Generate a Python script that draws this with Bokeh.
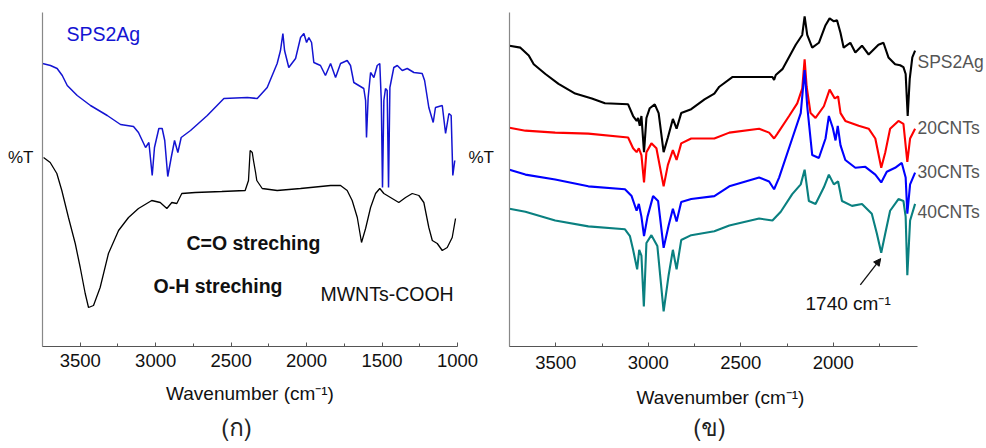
from bokeh.plotting import figure
from bokeh.layouts import row, column
from bokeh.models import Range1d, FixedTicker, Label, Arrow, NormalHead, LinearAxis
from bokeh.embed import file_html
from bokeh.resources import INLINE

# ---------------- data: panel (a) ----------------
a_sps_wn = [3750, 3697, 3653, 3619, 3586, 3520, 3432, 3321, 3233, 3147, 3114, 3089, 3067, 3045,
            3023, 3008, 2979, 2957, 2940, 2920, 2897, 2875, 2853, 2831, 2769, 2658, 2548, 2393,
            2327, 2261, 2195, 2173, 2157, 2146, 2118, 2073, 2040, 2018, 2000, 1985, 1967, 1952,
            1908, 1875, 1841, 1808, 1775, 1731, 1709, 1687, 1654, 1621, 1609, 1603, 1592, 1576,
            1554, 1532, 1515, 1505, 1497, 1488, 1477, 1466, 1457, 1448, 1422, 1399, 1366, 1333,
            1289, 1234, 1218, 1190, 1161, 1146, 1101, 1079, 1057, 1042, 1031, 1018]
a_sps_t = [283, 281, 278, 271, 261, 251, 241, 231, 222, 220, 214, 206, 199, 204,
           171, 199, 218, 218, 206, 170, 189, 206, 194, 209, 216, 231, 248, 249,
           248, 259, 283, 296, 313, 296, 279, 288, 309, 313, 304, 309, 304, 284,
           281, 271, 283, 269, 283, 286, 281, 264, 261, 258, 246, 209, 249, 274,
           269, 281, 283, 246, 159, 246, 258, 256, 159, 259, 279, 281, 276, 278,
           274, 273, 266, 239, 224, 239, 241, 213, 233, 231, 171, 186]

a_cooh_wn = [3743, 3699, 3655, 3622, 3578, 3533, 3500, 3467, 3445, 3412, 3368, 3313, 3246, 3180,
             3114, 3026, 2970, 2926, 2893, 2860, 2827, 2738, 2562, 2407, 2385, 2374, 2360, 2352,
             2338, 2330, 2294, 2195, 2040, 1841, 1775, 1731, 1698, 1664, 1636, 1609, 1576, 1543,
             1515, 1488, 1444, 1389, 1344, 1300, 1256, 1223, 1190, 1167, 1134, 1101, 1068, 1035,
             1013]
a_cooh_t = [189, 184, 173, 156, 129, 103, 79, 53, 39, 41, 59, 93, 116, 129,
            138, 146, 144, 138, 144, 143, 153, 154, 155, 156, 166, 196, 194, 186,
            174, 166, 158, 156, 158, 161, 161, 156, 146, 129, 104, 118, 139, 153,
            158, 153, 149, 144, 149, 153, 151, 144, 119, 106, 103, 96, 99, 109,
            128]

a_ticks = [3500, 3000, 2500, 2000, 1500, 1000]
a_minor = [3750, 3250, 2750, 2250, 1750, 1250]

# ---------------- data: panel (b) ----------------
b_sps_wn = [3750, 3691, 3646, 3619, 3556, 3485, 3395, 3305, 3234, 3109, 3082, 3063, 3055, 3046,
            3037, 3023, 3010, 2992, 2965, 2944, 2917, 2894, 2867, 2847, 2822, 2768, 2696, 2643,
            2616, 2544, 2472, 2329, 2320, 2311, 2275, 2203, 2168, 2155, 2141, 2114, 2078, 2042,
            2020, 1997, 1980, 1961, 1944, 1908, 1881, 1845, 1809, 1756, 1729, 1702, 1666, 1639,
            1621, 1609, 1598, 1587, 1573, 1558]
b_sps_t = [308, 306, 298, 289, 279, 269, 259, 254, 249, 248, 236, 231, 234, 226,
           236, 199, 234, 244, 248, 239, 199, 214, 233, 223, 239, 243, 253, 259,
           266, 276, 276, 276, 273, 278, 284, 309, 319, 338, 319, 306, 311, 329,
           336, 333, 334, 321, 306, 311, 301, 308, 299, 309, 311, 296, 289, 288,
           286, 279, 236, 274, 296, 303]

b_20_wn = [3750, 3664, 3503, 3324, 3109, 3082, 3063, 3051, 3037, 3023, 3010, 2983, 2956, 2917,
           2894, 2867, 2847, 2822, 2768, 2643, 2562, 2401, 2347, 2320, 2302, 2239, 2195, 2168,
           2155, 2144, 2123, 2096, 2051, 2020, 1992, 1974, 1961, 1935, 1863, 1809, 1773, 1741,
           1719, 1693, 1648, 1621, 1600, 1585, 1558]
b_20_t = [224, 221, 219, 218, 214, 203, 199, 203, 196, 168, 199, 208, 203, 164,
          186, 201, 191, 208, 213, 213, 219, 223, 219, 213, 218, 236, 249, 264,
          294, 266, 239, 234, 246, 263, 254, 256, 239, 231, 226, 223, 213, 183,
          199, 223, 231, 228, 189, 213, 223]

b_30_wn = [3750, 3664, 3503, 3324, 3126, 3090, 3063, 3051, 3037, 3023, 3004, 2974, 2947, 2917,
           2890, 2867, 2847, 2822, 2768, 2643, 2562, 2401, 2347, 2320, 2293, 2222, 2176, 2155,
           2141, 2114, 2078, 2042, 2024, 2003, 1988, 1976, 1961, 1935, 1881, 1827, 1773, 1741,
           1711, 1666, 1630, 1609, 1600, 1585, 1558]
b_30_t = [181, 176, 171, 164, 161, 154, 139, 146, 133, 113, 133, 154, 149, 101,
          124, 141, 128, 148, 151, 154, 164, 173, 169, 161, 173, 213, 239, 283,
          246, 196, 193, 213, 236, 224, 211, 226, 206, 191, 183, 184, 176, 168,
          179, 183, 188, 173, 136, 166, 178]

b_40_wn = [3750, 3664, 3503, 3324, 3126, 3099, 3082, 3060, 3049, 3037, 3024, 3010, 2983, 2951,
           2917, 2890, 2867, 2847, 2822, 2768, 2643, 2562, 2401, 2329, 2284, 2222, 2176, 2155,
           2132, 2096, 2051, 2024, 1997, 1974, 1953, 1899, 1845, 1792, 1765, 1741, 1719, 1693,
           1648, 1621, 1609, 1600, 1585, 1558]
b_40_t = [141, 138, 129, 123, 120, 113, 99, 79, 99, 93, 41, 106, 114, 103,
          36, 73, 99, 79, 109, 114, 118, 124, 131, 129, 138, 156, 166, 181,
          149, 146, 163, 176, 166, 169, 149, 144, 146, 136, 116, 96, 116, 139,
          151, 149, 133, 73, 129, 146]

b_ticks = [3500, 3000, 2500, 2000]
b_minor = [3750, 3250, 2750, 2250, 1750]
b_names = ["SPS2Ag", "20CNTs", "30CNTs", "40CNTs"]
b_name_y = [291, 224, 179, 138]

X_TITLE = "Wavenumber (cm\u207b\u00b9)"
CAPTIONS = ["(\u0e01)", "(\u0e02)"]
FONT = "Liberation Sans"
THAI = "Norasi, Garuda, Loma, 'Noto Serif Thai', 'Noto Sans Thai', serif"


def style(p, ticks, minor, tick_standoff):
    p.outline_line_color = None
    p.xgrid.visible = False
    p.ygrid.visible = False
    p.background_fill_color = "white"
    p.border_fill_color = "white"
    xa = p.xaxis[0]
    xa.ticker = FixedTicker(ticks=ticks, minor_ticks=minor)
    xa.axis_line_color = "#555555"
    xa.axis_line_width = 1.2
    xa.major_tick_line_color = "#555555"
    xa.minor_tick_line_color = "#555555"
    xa.major_tick_in = 4
    xa.major_tick_out = 0
    xa.minor_tick_in = 3
    xa.minor_tick_out = 0
    xa.major_label_text_font = FONT
    xa.major_label_text_font_size = "18.5px"
    xa.major_label_text_color = "#111111"
    xa.major_label_standoff = tick_standoff


def tick_text_axis(ticks, texts, standoff, size, color, line_color=None):
    return LinearAxis(ticker=FixedTicker(ticks=ticks, minor_ticks=[]),
                      major_label_overrides=dict(zip(ticks, texts)),
                      axis_line_color=line_color, axis_line_width=1.2,
                      major_tick_line_color=None, minor_tick_line_color=None,
                      major_tick_in=0, major_tick_out=0, minor_tick_in=0, minor_tick_out=0,
                      major_label_standoff=standoff, major_label_text_font=FONT,
                      major_label_text_font_size=size, major_label_text_color=color)


def lab(p, x, y, text, size="19.5px", color="#111111", bold=False, align="left", font=FONT):
    p.add_layout(Label(x=x, y=y, text=text, text_font=font, text_font_size=size,
                       text_color=color, text_baseline="middle", text_align=align,
                       text_font_style="bold" if bold else "normal"))


# ---------------- panel (a) ----------------
pa = figure(width=499, height=382, output_backend="svg", toolbar_location=None,
            x_range=Range1d(3750, 1000), y_range=Range1d(0, 334), y_axis_location=None,
            min_border_left=42, min_border_right=42, min_border_top=12, min_border_bottom=36)
pa.add_layout(tick_text_axis([189], ["%T"], 9, "17px", "#111111", "#888888"), "left")
pa.add_layout(tick_text_axis([189], ["%T"], 11, "17px", "#111111", None), "right")
style(pa, a_ticks, a_minor, 7)
pa.line(a_sps_wn, a_sps_t, line_color="#1414d2", line_width=1.5)
pa.line(a_cooh_wn, a_cooh_t, line_color="#000000", line_width=1.3)
lab(pa, 3591, 313, "SPS2Ag", color="#1414d2")
lab(pa, 2796, 104, "C=O streching", bold=True)
lab(pa, 3014, 61, "O-H streching", bold=True)
lab(pa, 1908, 53, "MWNTs-COOH")

# ---------------- panel (b) ----------------
pb = figure(width=487, height=382, output_backend="svg", toolbar_location=None,
            x_range=Range1d(3750, 1545), y_range=Range1d(0, 342), y_axis_location=None,
            min_border_left=10, min_border_right=67, min_border_top=9, min_border_bottom=31)
pb.add_layout(tick_text_axis([], [], 0, "17px", "#111111", "#888888"), "left")
pb.add_layout(tick_text_axis(b_name_y, b_names, 0, "17.5px", "#555555", None), "right")
style(pb, b_ticks, b_minor, 9)
pb.line(b_sps_wn, b_sps_t, line_color="#000000", line_width=2.1)
pb.line(b_20_wn, b_20_t, line_color="#ff0000", line_width=2.1)
pb.line(b_30_wn, b_30_t, line_color="#0000ff", line_width=2.1)
pb.line(b_40_wn, b_40_t, line_color="#0a8080", line_width=2.1)
lab(pb, 2150, 44, "1740 cm\u207b\u00b9", size="19px")
pb.add_layout(Arrow(x_start=1854, y_start=63, x_end=1744, y_end=90,
                    line_color="#111111", line_width=1.3,
                    end=NormalHead(size=7, fill_color="#111111", line_color="#111111")))

# ---------------- axis titles and captions strip ----------------
st = figure(width=986, height=66, output_backend="svg", toolbar_location=None,
            x_range=Range1d(0, 986), y_range=Range1d(0, 66),
            x_axis_type=None, y_axis_type=None, min_border=0)
st.outline_line_color = None
st.border_fill_color = "white"
st.background_fill_color = "white"
lab(st, 249.5, 55, X_TITLE, size="19px", align="center")
lab(st, 720, 51, X_TITLE, size="19px", align="center")
lab(st, 236, 21, CAPTIONS[0], size="24px", color="#222222", align="center", font=THAI)
lab(st, 709, 21, CAPTIONS[1], size="24px", color="#222222", align="center", font=THAI)

layout = column(row(pa, pb), st)
open("out.html", "w").write(file_html(layout, INLINE))
